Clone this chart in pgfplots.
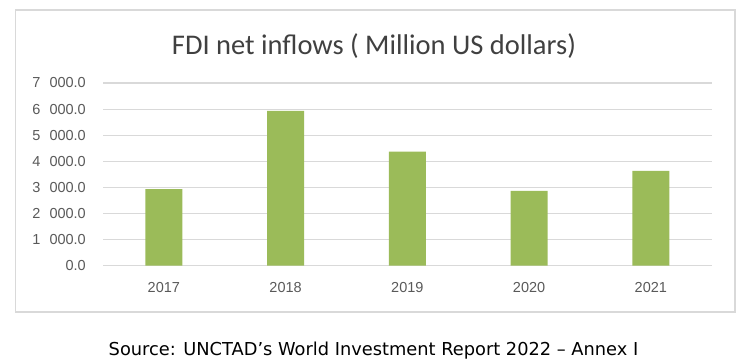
\documentclass[border=0pt]{standalone}
\usepackage{pgfplots}
\pgfplotsset{compat=1.18}
\usepackage{fontspec}
\setmainfont{Carlito}
\newfontfamily\tickfont{Liberation Sans}
\newfontfamily\srcfont{DejaVu Sans}
\definecolor{bargreen}{HTML}{9BBB59}
\definecolor{gridgray}{HTML}{D9D9D9}
\definecolor{txtgray}{HTML}{595959}
\definecolor{titlegray}{HTML}{404040}
\newcommand{\thsp}{\hspace{9pt}}
\begin{document}
\begin{tikzpicture}[x=1pt,y=1pt]
\path[use as bounding box] (0,0) rectangle (746,363);
\draw[gridgray, line width=1.5pt] (15.7,51) rectangle (735,353);
\node[titlegray, font=\fontsize{28.5}{32}\selectfont, anchor=base] at (374,308) {FDI net inflows ( Million US dollars)};
\begin{axis}[
  at={(103pt,97.3pt)}, anchor=south west,
  scale only axis, width=608.7pt, height=182.7pt,
  xmin=-0.5, xmax=4.5, ymin=0, ymax=7000,
  axis line style={draw=none},
  ytick={0,1000,2000,3000,4000,5000,6000,7000},
  yticklabels={0.0,1\thsp000.0,2\thsp000.0,3\thsp000.0,4\thsp000.0,5\thsp000.0,6\thsp000.0,7\thsp000.0},
  xtick={0,1,2,3,4},
  xticklabels={2017,2018,2019,2020,2021},
  major tick length=0pt,
  ymajorgrids, grid style={gridgray, line width=1.2pt},
  yticklabel style={font=\tickfont\fontsize{14.5}{16}\selectfont, text=txtgray, anchor=east, inner sep=0pt, xshift=-17pt},
  xticklabel style={font=\tickfont\fontsize{14.5}{16}\selectfont, text=txtgray, anchor=north, inner sep=0pt, yshift=-16.5pt},
  /pgf/number format/assume math mode=true,
  clip=false,
]
\addplot[ybar, bar width=37pt, fill=bargreen, draw=none] coordinates {(0,2930) (1,5930) (2,4370) (3,2870) (4,3630)};
\end{axis}
\node[black, font=\srcfont\fontsize{17.8}{20}\selectfont, anchor=base] at (373.5,7) {Source: UNCTAD’s World Investment Report 2022 – Annex I};
\end{tikzpicture}
\end{document}
